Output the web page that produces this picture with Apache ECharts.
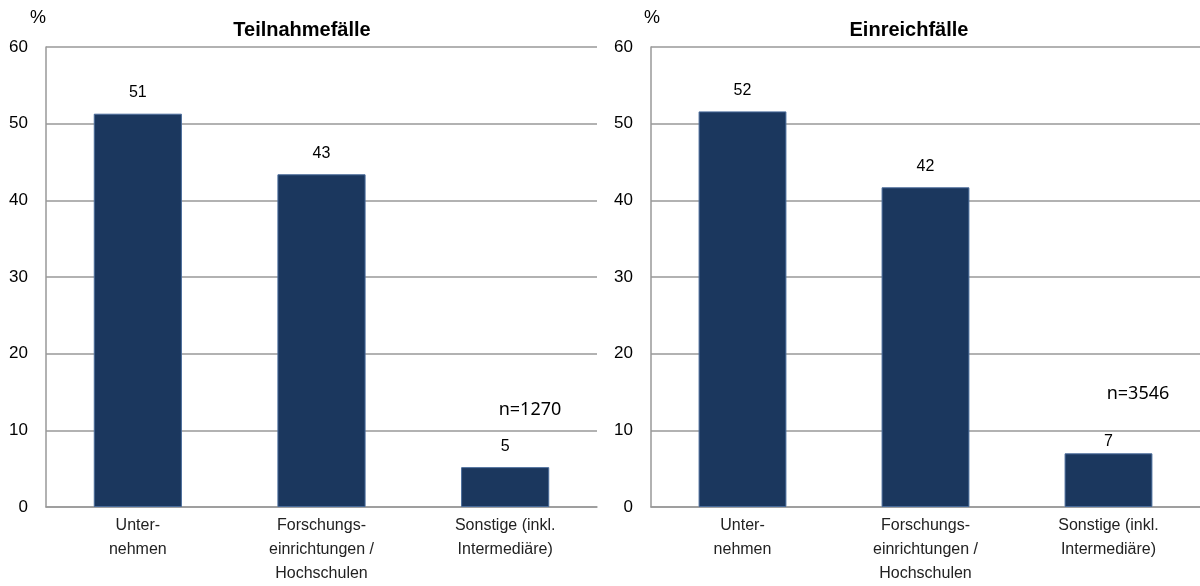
<!DOCTYPE html>
<html>
<head>
<meta charset="utf-8">
<title>Teilnahmefälle / Einreichfälle</title>
<script src="https://cdn.jsdelivr.net/npm/echarts@6/dist/echarts.min.js"></script>
<style>
    html, body { margin: 0; padding: 0; background: #fff; }
    #chart { width: 1200px; height: 586px; }
</style>
</head>
<body>
<div id="chart"></div>
<script>
    // Kategorien und Werte (in %)
    var categories = ['Unter-\nnehmen', 'Forschungs-\neinrichtungen /\nHochschulen', 'Sonstige (inkl.\nIntermediäre)'];
    var teilnahme = [51.3, 43.4, 5.2];
    var einreich = [51.6, 41.7, 7.0];
    var titles = ['Teilnahmefälle', 'Einreichfälle'];
    var counts = ['n=1270', 'n=3546'];
    var yTicks = [0, 10, 20, 30, 40, 50, 60];

    var font = 'Arial, "Liberation Sans", sans-serif';
    var barColor = '#1b375e';

    var myChart = echarts.init(document.getElementById('chart'));

    function xAxis(idx) {
        return {
            type: 'category',
            gridIndex: idx,
            data: categories,
            axisLine: { lineStyle: { color: '#999', width: 1.5 } },
            axisTick: { show: false },
            axisLabel: {
                color: '#222', fontFamily: font, fontSize: 16,
                lineHeight: 24, margin: 7, interval: 0
            }
        };
    }

    function yAxis(idx) {
        return {
            type: 'value',
            gridIndex: idx,
            min: yTicks[0],
            max: yTicks[yTicks.length - 1],
            interval: 10,
            axisLine: { show: true, lineStyle: { color: '#999', width: 1.5 } },
            axisTick: { show: false },
            splitLine: { lineStyle: { color: '#999', width: 1.5 } },
            axisLabel: { color: '#000', fontFamily: font, fontSize: 17, margin: 18 }
        };
    }

    function barSeries(idx, values) {
        return {
            type: 'bar',
            xAxisIndex: idx,
            yAxisIndex: idx,
            barWidth: '48%',
            data: values.map(function (v) {
                // Excel setzt das kleine Label rechts unter die Gitterlinie
                return v > 6 && v < 10 ? { value: v, label: { distance: 4 } } : v;
            }),
            itemStyle: { color: barColor, borderColor: '#4a6c9b', borderWidth: 1 },
            label: {
                show: true,
                position: 'top',
                distance: 13,
                color: '#000',
                fontFamily: font,
                fontSize: 16,
                formatter: function (p) { return Math.round(p.value); }
            }
        };
    }

    var option = {
        animation: false,
        backgroundColor: '#fff',
        grid: [
            { left: 46, top: 47, width: 551, bottom: 79 },
            { left: 651, top: 47, width: 552, bottom: 79 }
        ],
        xAxis: [xAxis(0), xAxis(1)],
        yAxis: [yAxis(0), yAxis(1)],
        series: [barSeries(0, teilnahme), barSeries(1, einreich)],
        graphic: [
            { type: 'text', x: 38, y: 18, style: { text: '%', fontFamily: font, fontSize: 18, fill: '#000', align: 'center', verticalAlign: 'middle' } },
            { type: 'text', x: 652, y: 18, style: { text: '%', fontFamily: font, fontSize: 18, fill: '#000', align: 'center', verticalAlign: 'middle' } },
            { type: 'text', x: 302, y: 30, style: { text: titles[0], fontFamily: font, fontSize: 20, fontWeight: 'bold', fill: '#000', align: 'center', verticalAlign: 'middle' } },
            { type: 'text', x: 909, y: 30, style: { text: titles[1], fontFamily: font, fontSize: 20, fontWeight: 'bold', fill: '#000', align: 'center', verticalAlign: 'middle' } },
            { type: 'text', x: 530, y: 410, style: { text: counts[0], fontFamily: '"Noto Sans", sans-serif', fontSize: 18, fill: '#000', align: 'center', verticalAlign: 'middle' } },
            { type: 'text', x: 1138, y: 394, style: { text: counts[1], fontFamily: '"Noto Sans", sans-serif', fontSize: 18, fill: '#000', align: 'center', verticalAlign: 'middle' } }
        ]
    };

    myChart.setOption(option);
</script>
</body>
</html>
